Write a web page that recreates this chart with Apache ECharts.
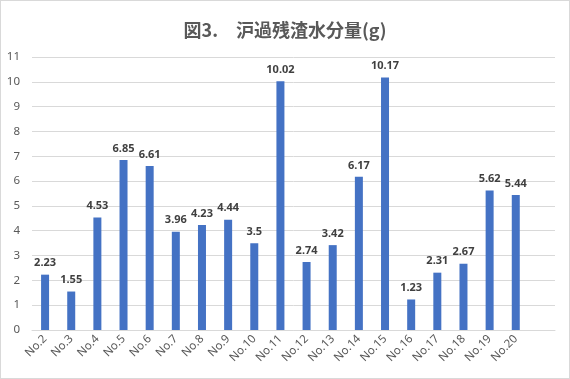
<!DOCTYPE html>
<html><head><meta charset="utf-8">
<script src="https://cdn.jsdelivr.net/npm/echarts@6/dist/echarts.min.js"></script>
<style>html,body{margin:0;padding:0;background:#fff}#c{width:570px;height:379px;box-sizing:border-box;border:1px solid #d9d9d9}</style>
</head><body><div id="c"></div>
<script>
const categories = ['No.2','No.3','No.4','No.5','No.6','No.7','No.8','No.9','No.10','No.11','No.12','No.13','No.14','No.15','No.16','No.17','No.18','No.19','No.20',''];
const values = [2.23,1.55,4.53,6.85,6.61,3.96,4.23,4.44,3.5,10.02,2.74,3.42,6.17,10.17,1.23,2.31,2.67,5.62,5.44,null];
const titleText = '図3.\u3000沪過残渣水分量(g)';
const chart = echarts.init(document.getElementById('c'));
chart.setOption({
  animation:false,
  title:{text:titleText,left:'center',top:15,textStyle:{fontFamily:'Noto Sans CJK JP',fontSize:18,fontWeight:'bold',color:'#595959'}},
  grid:{left:31,right:14,top:56,bottom:48,containLabel:false},
  xAxis:{type:'category',data:categories,axisTick:{show:false},
    axisLine:{lineStyle:{color:'#d9d9d9'}},
    axisLabel:{rotate:45,interval:0,color:'#595959',fontSize:11.5,fontFamily:'Noto Sans',margin:7}},
  yAxis:{type:'value',min:0,max:11,interval:1,
    axisLabel:{color:'#595959',fontSize:11.5,fontFamily:'Noto Sans',margin:12},
    splitLine:{lineStyle:{color:'#d9d9d9'}},axisLine:{show:false},axisTick:{show:false}},
  series:[{type:'bar',data:values,barWidth:8,itemStyle:{color:'#4472c4'},
    label:{show:true,position:'top',distance:6,color:'#404040',fontWeight:'bold',fontSize:11,fontFamily:'Noto Sans'}}]
});
</script></body></html>
